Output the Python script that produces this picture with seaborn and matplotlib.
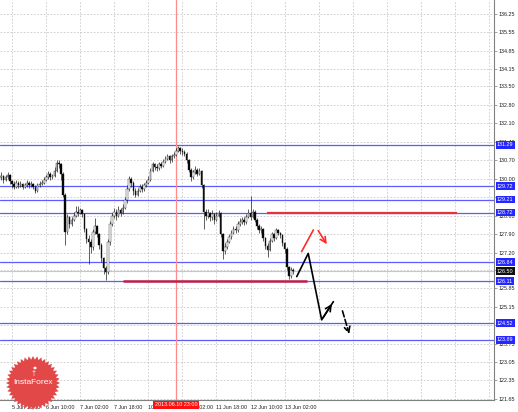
import numpy as np
import pandas as pd
import matplotlib
matplotlib.use("Agg")
import matplotlib.pyplot as plt
import matplotlib.transforms as mtransforms
from matplotlib.patches import Polygon, Circle
import seaborn as sns

# hourly bars, 5 Jun 12:00 .. 13 Jun 06:00
first_open = 130.00
close = [130.05, 130.10, 129.95, 130.05, 130.15, 129.90, 129.80, 129.70, 129.85, 129.75,
         129.80, 129.70, 129.75, 129.85, 129.75, 129.80, 129.70, 129.55, 129.75, 129.80,
         129.85, 129.95, 130.05, 130.20, 130.05, 130.10, 130.30, 130.60, 130.55, 130.20,
         129.40, 128.00, 128.55, 128.30, 128.45, 128.60, 128.75, 128.70, 128.80, 128.65,
         128.10, 127.70, 127.60, 127.40, 128.00, 128.20, 127.90, 127.50, 127.00, 126.60,
         126.45, 127.60, 128.30, 128.60, 128.75, 128.60, 128.80, 128.70, 128.90, 129.20,
         129.60, 130.00, 129.85, 129.55, 129.40, 129.55, 129.70, 129.60, 129.75, 129.85,
         129.95, 130.30, 130.55, 130.45, 130.40, 130.55, 130.50, 130.65, 130.75, 130.85,
         130.70, 130.85, 130.90, 131.05, 131.15, 131.05, 131.00, 130.95, 130.70, 130.35,
         130.05, 130.25, 130.35, 130.20, 130.30, 129.75, 128.75, 128.60, 128.70, 128.55,
         128.65, 128.45, 128.60, 128.70, 127.90, 127.25, 127.40, 127.60, 127.80, 127.95,
         128.10, 128.05, 128.30, 128.35, 128.45, 128.35, 128.55, 128.70, 128.55, 128.75,
         128.45, 128.20, 128.05, 128.10, 127.75, 127.45, 127.30, 127.65, 127.90, 127.75,
         128.05, 127.95, 127.85, 127.55, 127.35, 126.65, 126.30, 126.55, 126.50]
high = [130.20, 130.25, 130.15, 130.15, 130.25, 130.20, 129.95, 129.90, 129.95, 129.90,
        129.90, 129.85, 129.85, 129.95, 129.90, 129.90, 129.85, 129.75, 129.85, 129.90,
        129.95, 130.05, 130.15, 130.30, 130.25, 130.20, 130.45, 130.72, 130.70, 130.60,
        130.25, 129.45, 128.65, 128.60, 128.55, 128.75, 128.95, 128.95, 128.90, 128.85,
        128.70, 128.15, 127.85, 127.70, 128.10, 128.50, 128.25, 127.95, 127.55, 127.05,
        126.70, 127.70, 128.40, 128.70, 128.90, 128.85, 128.95, 128.90, 129.05, 129.30,
        129.75, 130.10, 130.05, 129.90, 129.65, 129.65, 129.80, 129.80, 129.85, 129.95,
        130.10, 130.40, 130.65, 130.60, 130.55, 130.65, 130.65, 130.75, 130.85, 130.95,
        130.90, 130.95, 131.00, 131.15, 131.25, 131.20, 131.15, 131.10, 131.00, 130.75,
        130.40, 130.35, 130.50, 130.40, 130.40, 130.35, 129.80, 128.85, 128.85, 128.75,
        128.80, 128.70, 128.75, 128.80, 128.75, 127.95, 127.55, 127.70, 127.90, 128.05,
        128.20, 128.20, 128.40, 128.50, 128.55, 128.55, 128.65, 128.85, 129.35, 128.85,
        128.80, 128.50, 128.30, 128.20, 128.15, 127.80, 127.55, 127.75, 128.00, 127.95,
        128.15, 128.10, 128.00, 127.90, 127.60, 127.40, 126.70, 126.65, 126.62]
low = [129.95, 129.95, 129.85, 129.90, 130.00, 129.80, 129.65, 129.60, 129.65, 129.65,
       129.70, 129.60, 129.65, 129.70, 129.65, 129.70, 129.60, 129.45, 129.50, 129.70,
       129.75, 129.80, 129.90, 130.00, 129.95, 130.00, 130.05, 130.25, 130.40, 129.95,
       129.30, 127.50, 127.90, 128.15, 128.20, 128.40, 128.55, 128.60, 128.65, 128.55,
       128.00, 127.55, 126.75, 127.20, 127.30, 127.90, 127.80, 127.35, 126.85, 126.40,
       126.15, 126.40, 127.50, 128.20, 128.50, 128.45, 128.55, 128.60, 128.65, 128.85,
       129.10, 129.55, 129.70, 129.40, 129.30, 129.35, 129.50, 129.50, 129.55, 129.70,
       129.80, 129.90, 130.25, 130.35, 130.30, 130.35, 130.40, 130.45, 130.60, 130.70,
       130.60, 130.65, 130.80, 130.85, 131.00, 130.95, 130.90, 130.85, 130.60, 130.25,
       129.90, 130.00, 130.20, 130.10, 130.15, 129.65, 128.10, 128.45, 128.50, 128.40,
       128.45, 128.30, 128.40, 128.55, 127.80, 126.95, 127.15, 127.35, 127.55, 127.70,
       127.90, 127.95, 128.00, 128.20, 128.30, 128.25, 128.30, 128.50, 128.45, 128.50,
       128.35, 128.10, 127.95, 127.95, 127.65, 127.35, 127.05, 127.25, 127.60, 127.65,
       127.70, 127.85, 127.75, 127.45, 127.20, 126.55, 126.20, 126.25, 126.40]

time_ticks = [6, 22, 38, 54, 70, 86, 102, 118, 134, 150, 166, 182, 198, 214, 230]
time_labels = ['5 Jun 18:00', '6 Jun 10:00', '7 Jun 02:00', '7 Jun 18:00', '10 Jun 10:00',
               '11 Jun 02:00', '11 Jun 18:00', '12 Jun 10:00', '13 Jun 02:00',
               '', '', '', '', '', '']
price_ticks = [136.25, 135.55, 134.85, 134.15, 133.50, 132.80, 132.10, 131.40, 130.70,
               130.00, 129.30, 128.60, 127.90, 127.20, 126.55, 125.85, 125.15, 124.45,
               123.75, 123.05, 122.35, 121.65]
# tick labels fully covered by the line labels in the reference
covered_ticks = [129.30, 126.55, 124.45]
levels = [131.29, 129.72, 129.21, 128.72, 126.84, 126.11, 124.52, 123.89]
bid = 126.50
marked_bar = 83
marked_label = '2013.06.10 23:00'

resist_level, resist_from, resist_to = 128.72, 125.7, 214.9
support_level, support_from, support_to = 126.11, 58.1, 144.5

# forecast arrows
path_x = [139.7, 145.1, 151.4, 156.9]
path_y = [126.29, 127.17, 124.65, 125.34]
dash_x = [160.8, 164.7]
dash_y = [125.09, 124.01]
red_up_x = [142.0, 147.5]
red_up_y = [127.24, 128.06]
red_dn_x = [149.1, 154.5]
red_dn_y = [128.12, 127.43]

df = pd.DataFrame({'close': close, 'high': high, 'low': low})
df['open'] = [first_open] + close[:-1]
df['bar'] = np.arange(len(df))
df['bull'] = df['close'] >= df['open']

sns.set_style('white')
plt.rcParams['font.family'] = ['Liberation Sans', 'DejaVu Sans']

fig = plt.figure(figsize=(5.18, 4.12), dpi=100)
ax = fig.add_axes([0, 12 / 412, 494 / 518, 400 / 412])
ax.set_xlim(0.4, 232.3)
ax.set_ylim(121.61, 136.78)

# grid and axes
ax.set_xticks(time_ticks)
ax.set_xticklabels(time_labels, ha='left', fontsize=3.9, color='#202020')
ax.set_yticks(price_ticks)
ax.set_yticklabels(['' if p in covered_ticks else f'{p:.2f}' for p in price_ticks],
                   fontsize=3.9, color='#202020')
ax.yaxis.tick_right()
ax.tick_params(axis='both', length=2, width=0.5, color='#808080', pad=1.5)
ax.grid(True, linestyle=(0, (2, 2)), color='#c8c8c8', lw=0.6)
ax.set_axisbelow(True)
for side in ['top', 'left']:
    ax.spines[side].set_visible(False)
for side in ['right', 'bottom']:
    ax.spines[side].set_color('#808080')
    ax.spines[side].set_linewidth(0.8)

# level lines
for lv in levels:
    ax.axhline(lv, color='#5c5cff', lw=0.9, zorder=2)
ax.axhline(bid, color='#c8c8c8', lw=0.8, zorder=2)
ax.axvline(marked_bar, color='#ff8c8c', lw=0.9, zorder=2)

# candles
ax.vlines(df['bar'], df['low'], df['high'], color='#202020', lw=0.5, zorder=3)
body_lo = df[['open', 'close']].min(axis=1)
body_h = (df['close'] - df['open']).abs().clip(lower=0.02)
ax.bar(df['bar'], body_h, bottom=body_lo, width=0.75,
       color=np.where(df['bull'], 'white', 'black'), edgecolor='#202020', lw=0.3, zorder=4)

# drawn levels
ax.hlines(resist_level, resist_from, resist_to, color='#e8323a', lw=1.6, zorder=5)
ax.hlines(support_level, support_from, support_to, color='#c21f45', lw=1.8, zorder=5)

# forecast arrows
sns.lineplot(x=path_x, y=path_y, color='black', lw=1.2, sort=False, estimator=None, ax=ax, zorder=6)
ax.annotate('', xy=(path_x[-1], path_y[-1]), xytext=(path_x[-2], path_y[-2]),
            arrowprops=dict(arrowstyle='->', color='black', lw=1.2, mutation_scale=10), zorder=6)
ax.annotate('', xy=(dash_x[1], dash_y[1]), xytext=(dash_x[0], dash_y[0]),
            arrowprops=dict(arrowstyle='->', color='black', lw=1.2, ls='--', mutation_scale=10), zorder=6)
sns.lineplot(x=red_up_x, y=red_up_y, color='#ff2a2a', lw=1.2, sort=False, estimator=None, ax=ax, zorder=6)
ax.annotate('', xy=(red_dn_x[1], red_dn_y[1]), xytext=(red_dn_x[0], red_dn_y[0]),
            arrowprops=dict(arrowstyle='->', color='#ff2a2a', lw=1.2, mutation_scale=10), zorder=6)

# price labels on the right axis
ytrans = mtransforms.blended_transform_factory(ax.transAxes, ax.transData)
for lv in levels:
    ax.text(1.006, lv, f'{lv:.2f}', transform=ytrans, fontsize=3.9, color='white',
            ha='left', va='center', clip_on=False, zorder=10,
            bbox=dict(boxstyle='square,pad=0.25', fc='#2626ff', ec='none'))
ax.text(1.006, bid, f'{bid:.2f}', transform=ytrans, fontsize=3.9, color='white',
        ha='left', va='center', clip_on=False, zorder=10,
        bbox=dict(boxstyle='square,pad=0.25', fc='#101010', ec='none'))

xtrans = mtransforms.blended_transform_factory(ax.transData, ax.transAxes)
ax.text(marked_bar, -0.006, marked_label, transform=xtrans, fontsize=3.9, color='white',
        ha='center', va='top', clip_on=False, zorder=10,
        bbox=dict(boxstyle='square,pad=0.25', fc='#ff1010', ec='none'))

# logo
W, H = 518, 412
cx, cy = 33, 412 - 383
ang = np.linspace(0, 2 * np.pi, 81)[:-1]
rad = np.where(np.arange(80) % 2 == 0, 27, 23.5)
pts = np.column_stack([(cx + rad * np.cos(ang)) / W, (cy + rad * np.sin(ang)) / H])
fig.add_artist(Polygon(pts, closed=True, transform=fig.transFigure, fc='#e34848', ec='none', zorder=20))
fig.add_artist(Circle(((cx + 2) / W, (cy + 15) / H), 1.6 / W, transform=fig.transFigure,
                      fc='white', ec='none', zorder=21))
fig.text(cx / W, (cy + 10) / H, '\u2020', fontsize=5, color='white', ha='center', va='center', zorder=21)
fig.text(cx / W, cy / H, 'InstaForex', fontsize=6, color='white', ha='center', va='center', zorder=21)

plt.savefig('out.png', dpi=100)
